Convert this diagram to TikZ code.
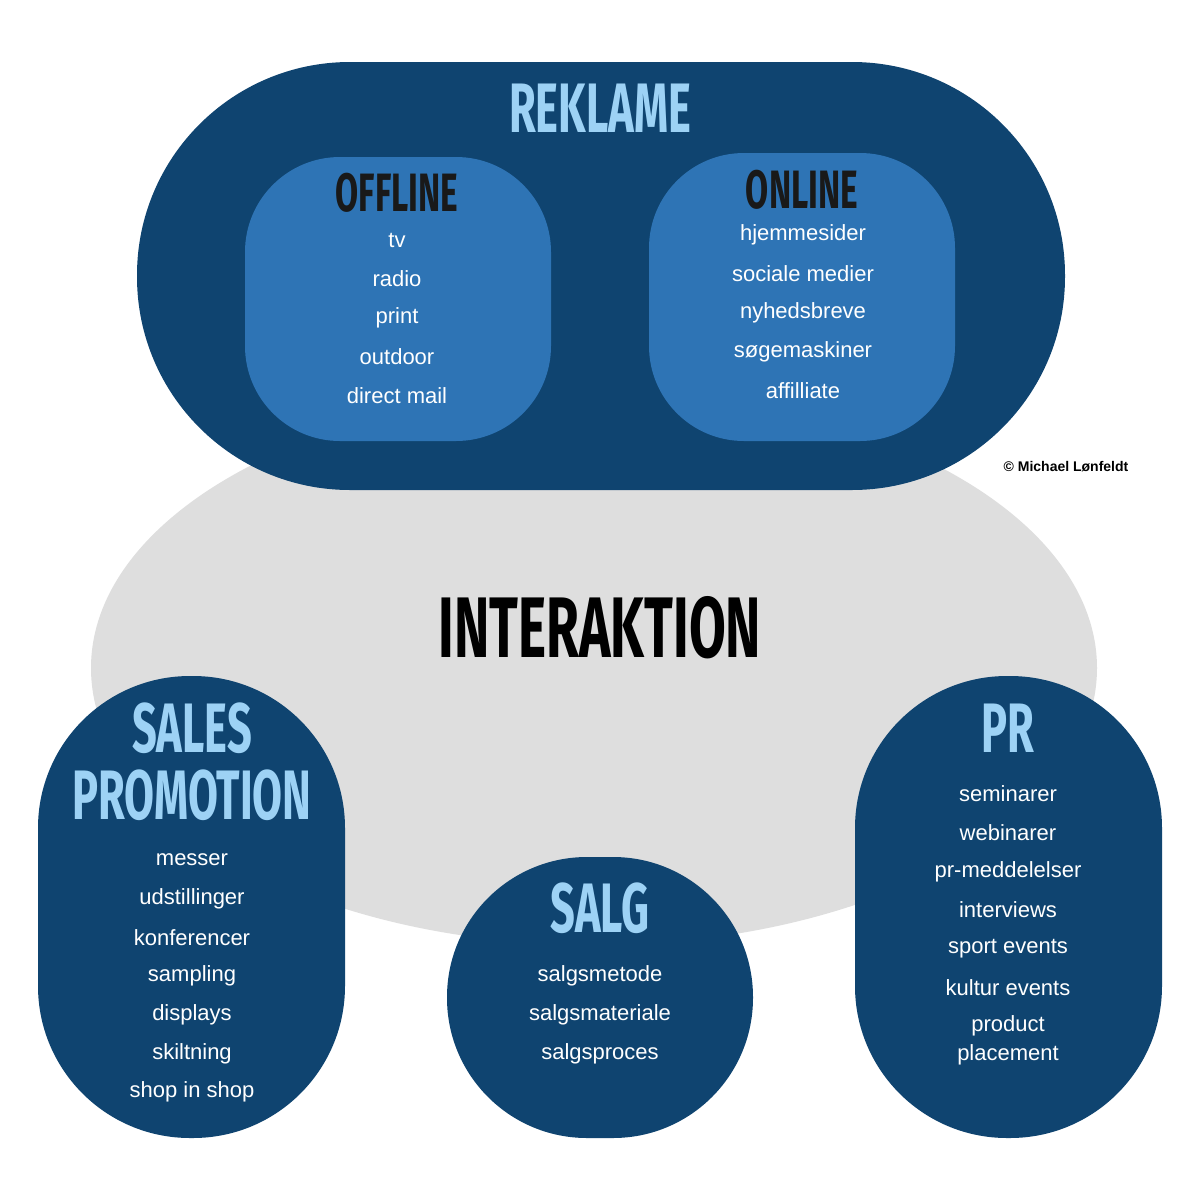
\documentclass[tikz,border=0pt]{standalone}
\usepackage{fontspec}
\setmainfont{Liberation Sans}
\newfontfamily\headfont{Fira Sans}
\definecolor{dark}{HTML}{0F4470}
\definecolor{mid}{HTML}{2E74B5}
\definecolor{light}{HTML}{9DD2F5}
\definecolor{grey}{HTML}{DEDEDE}
\begin{document}
\begin{tikzpicture}[x=1pt,y=-1pt,
  item/.style={font=\fontsize{22}{22}\selectfont, text=white, inner sep=0},
  head/.style={font=\headfont\bfseries\fontsize{70}{70}\selectfont, text=light, xscale=0.62, inner sep=0},
  subhead/.style={font=\headfont\bfseries\fontsize{54}{54}\selectfont, text=black!90, xscale=0.62, inner sep=0}]
\useasboundingbox (0,0) rectangle (1200,1200);
\fill[white] (0,0) rectangle (1200,1200);
\fill[grey] (594,668) ellipse [x radius=503, y radius=277];
\fill[dark, rounded corners=213] (137,62) rectangle (1065,490);
\fill[mid, rounded corners=95] (245,157) rectangle (551,441);
\fill[mid, rounded corners=95] (649,153) rectangle (955,441);
\fill[dark, rounded corners=152] (38,676) rectangle (345,1138);
\fill[dark, rounded corners=140] (447,857) rectangle (753,1138);
\fill[dark, rounded corners=152] (855,676) rectangle (1162,1138);

\node[head] (rek) at (600,108) {REKLAME};
\node[subhead] (off) at (397,193) {OFFLINE};
\node[subhead] (on) at (802,190) {ONLINE};
\foreach \t [count=\i] in {tv,radio,print,outdoor,direct mail}
  \node[item] (o\i) at (397,240+38.8*\i-38.8) {\t};
\foreach \t [count=\i] in {hjemmesider,sociale medier,nyhedsbreve,søgemaskiner,affilliate}
  \node[item] (n\i) at (803,235+38.8*\i-38.8) {\t};
\node[font=\bfseries\fontsize{14}{14}\selectfont, inner sep=0] (copy) at (1066,467) {© Michael Lønfeldt};
\node[font=\headfont\bfseries\fontsize{86}{86}\selectfont, xscale=0.62, inner sep=0] (int) at (600,628) {INTERAKTION};

\node[head] (sp1) at (192,728) {SALES};
\node[head] (sp2) at (192,795) {PROMOTION};
\foreach \t [count=\i] in {messer,udstillinger,konferencer,sampling,displays,skiltning,shop in shop}
  \node[item] (s\i) at (192,860+38.7*\i-38.7) {\t};
\node[head] (salg) at (600,908) {SALG};
\foreach \t [count=\i] in {salgsmetode,salgsmateriale,salgsproces}
  \node[item] (g\i) at (600,976+38.7*\i-38.7) {\t};
\node[head] (pr) at (1008,728) {PR};
\foreach \t [count=\i] in {seminarer,webinarer,pr-meddelelser,interviews,sport events,kultur events,product}
  \node[item] (p\i) at (1008,794+38.7*\i-38.7) {\t};
\node[item] (p8) at (1008,1055) {placement};
\end{tikzpicture}
\end{document}
